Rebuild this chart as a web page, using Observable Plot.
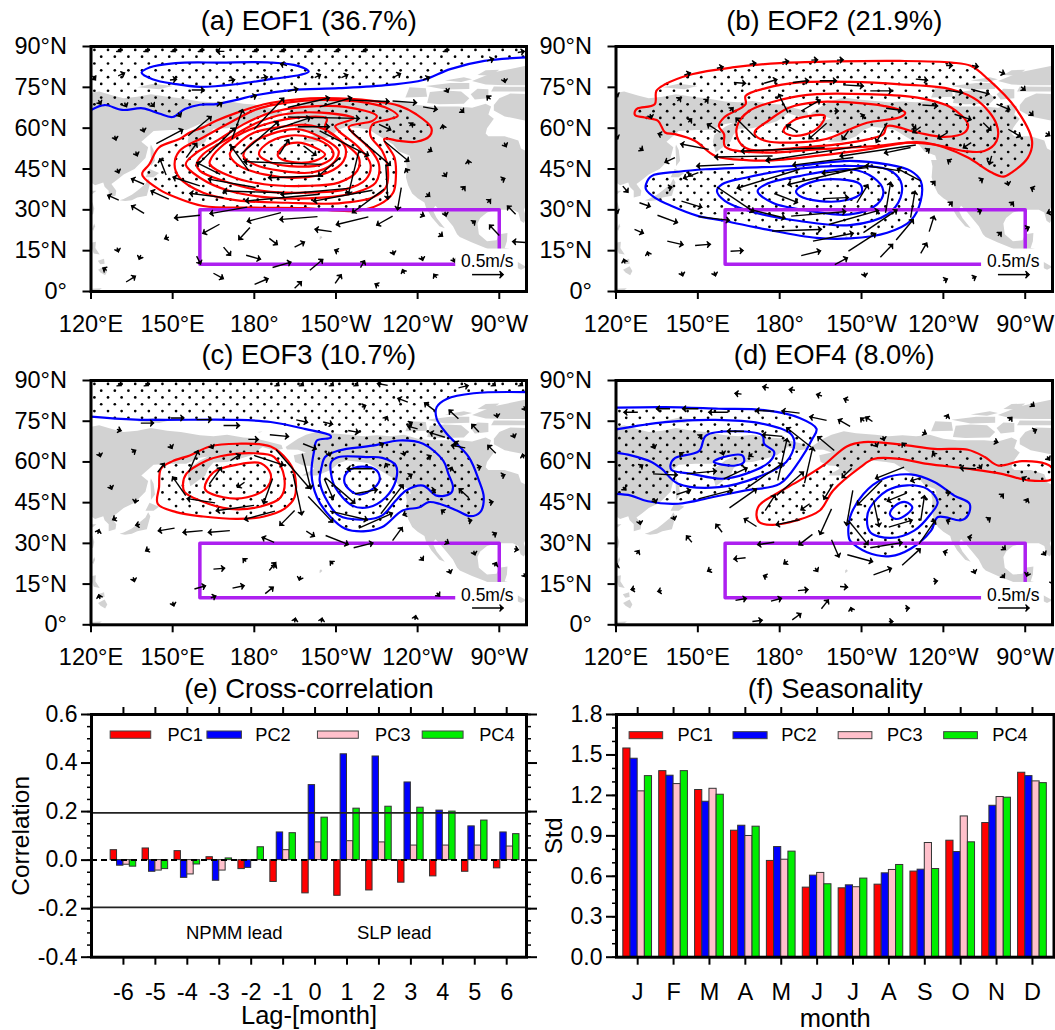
<!DOCTYPE html>
<html>
<head>
<meta charset="utf-8">
<script src="https://cdn.jsdelivr.net/npm/d3@7"></script>
<script src="https://cdn.jsdelivr.net/npm/@observablehq/plot@0.6"></script>
<style>
html,body{margin:0;padding:0;background:#fff;overflow:hidden;width:1055px;height:1030px}
#page{position:relative;width:1055px;height:1030px;overflow:hidden}
#page svg{position:absolute;overflow:visible;background:transparent}
</style>
</head>
<body>
<div id="page"></div>
<script>
// ---- map axes
const lonTicks=[120,150,180,210,240,270];
const lonLabels=["120°E","150°E","180°","150°W","120°W","90°W"];
const latTicks=[0,15,30,45,60,75,90];
const latLabels=["0°","15°N","30°N","45°N","60°N","75°N","90°N"];
// ---- land outlines (lon 0-360, lat)
const landPolygons=[
[[120,73],[123,73.5],[128,72],[132,71],[137,71.5],[142,72.5],[148,71.5],[153,71],[160,69.8],[165,69.5],[170,70],[176,69],[180,68.7],[185,67.5],[190,66.2],[190.5,64.8],[187,64.3],[183,65.5],[179,62.5],[174,61],[170,60],[165,59.8],[163,57.5],[162,55],[158.5,52.5],[156.5,51],[155.5,55],[156,57.5],[160,60.5],[163,62],[160,61.5],[155,59.3],[149,59.3],[143,59],[138.5,55],[141,53],[140,49],[136,45],[132,43],[129.5,41],[127.5,39.5],[129.3,37],[129,35.2],[126.5,34.5],[126.5,37],[125,38.5],[124.5,40],[121.5,39],[120,40]],
[[142,54],[143,52],[143.5,48],[142,46],[142,49],[141.8,53]],
[[130.5,33.5],[132,34],[135,35.5],[137,37],[140,39.5],[141,41.5],[141.8,40],[141,37],[140.5,35.2],[137,34.5],[135,33.5],[132.5,33.2]],
[[140,42],[141.5,45],[145,43.5],[143,42]],
[[120,28],[120.8,28.5],[121.2,30.5],[120.6,32.5],[120,33.5]],
[[120,37],[122,37],[120.5,35.8],[120,35.8]],
[[120.4,23],[121.2,25],[121.5,24],[120.8,22.3]],
[[120.4,18],[121.8,18.3],[121.6,16],[123.2,13.6],[121,14],[120.3,16]],
[[122.6,8],[125,9.3],[126,7.5],[125.2,6],[123.5,7]],
[[122.5,11.3],[124.8,12],[125,10.2],[123.4,10]],
[[120,1],[124,1.2],[123,.5],[120,.2]],
[[137,75],[143,76.3],[150,75.5],[145,74.3]],
[[181,71],[183,71.2],[182,70.8]],
[[204,19],[205,19.8],[204.5,20.5],[204,20]],
[[191.5,65.5],[193,66.5],[196,68.5],[199,70],[203.5,71.3],[208,70.6],[215,70],[220,69.5],[225,69.8],[230,69.5],[235,70],[240,68.5],[245,68],[250,68],[255,68],[260,67.5],[265,69],[267,68],[266,65],[268,63.5],[265.5,60],[265,58],[266,57],[268,57],[272,57],[277,55.5],[278,52.5],[280,51.5],[280,32],[279,30],[280,27],[279,25.2],[277.8,26],[277,29],[275,30],[269,30],[265.5,29],[263,27],[262,25],[262.5,21],[265.5,18.5],[269,18.8],[270,21],[273,21.5],[272.8,18.5],[272,16],[276.5,15],[276.5,11],[280,9],[278,8],[275,9.5],[272,12],[268,14.5],[265,16],[260,18],[255.5,20],[254.5,21],[253,24],[250.5,27],[248,30],[246.5,31.5],[245.5,30],[247,27],[250,23.2],[248,24],[245,27.5],[243,31],[242.5,32.7],[240,34.3],[238,36],[236.5,39],[235.7,42],[236,46],[235.5,48.3],[237.5,48.3],[237,50],[233,51.5],[231,54],[226,57],[222,59.5],[219,60],[214,60.5],[211,59.5],[208,57],[203,55],[197.5,55],[202,57.5],[201,58.5],[198,58.7],[195,60],[194.5,62.5],[199,63.5],[196,64.5],[192,64.6]],
[[268,66.5],[272,64.3],[280,62.7],[280,72.5],[274,72.7],[270,71],[268,68.5]],
[[235.5,71.3],[237,75],[243,74.7],[243.5,71.5]],
[[243.5,69.2],[244.5,73.3],[250,73.8],[256,73.5],[259,71],[257,69],[248,68.8]],
[[243,75.5],[252,76.6],[259,76.6],[259,74.4],[250,74.2]],
[[259.5,72.5],[262,74.5],[266,74.3],[266,71],[261,70.5]],
[[267,73.5],[280,73.5],[280,75.2],[268,75.3]],
[[260,77.3],[268,80.5],[280,83],[280,75.8],[272,75.8],[265,76]],
[[262,79.5],[265,81.3],[270,81.5],[267,79.3]],
[[250,77.5],[257,78.7],[260,78],[256,77]]
];
// ---- EOF1 contours
const aBlueOpen=[[[120,66.7],[125,68.5],[131.5,66.7],[139,67.3],[145,65.4],[150,64.1],[154.5,67],[160,68.6],[166,68.8],[173.5,70.4],[181,72.2],[193.5,74],[211,74.7],[229.5,75.9],[242,77.7],[252,81.7],[264.5,84.7],[280,86]]];
const aBlue=[[[138.6,80.4],[141.5,82.3],[151,83.9],[167.5,84.1],[186,84.1],[196,82.9],[200,80.8],[197,79.6],[186,78],[173.7,76.2],[160,75.2],[151,76.2],[142.6,78]]];
const aRed=[
[[138.9,43.7],[141.4,46.7],[145,52.9],[152.5,56],[156.3,58.4],[161,60.2],[166,62.7],[173.7,65.7],[183.6,68.8],[196,70.6],[206,71],[223.4,70],[233.3,68.2],[239.5,65.1],[245,60.2],[244.5,57.2],[239.5,55],[233.3,55.3],[227.7,56],[231.5,49.2],[232,41.8],[231,36.3],[226,32],[217,29.6],[198.5,30.6],[180,30.8],[161.2,31.4],[151.3,34.5],[145,37.5],[139,42.4]],
[[150.7,46.7],[152.5,51.6],[161,56.5],[171,62],[181,67],[192,69.4],[205,70.4],[221,69.4],[229.6,67],[232.7,64.5],[229.6,63.3],[223.4,61.4],[222.7,57.2],[227,51.6],[229,45.5],[228.3,38.2],[223.4,34.5],[211,32.4],[192.3,32.6],[173.7,33.5],[161.2,36.3],[152.5,41.8]],
[[158,50.4],[166,55.3],[176,61.4],[186,65.7],[198.5,67.8],[213.4,67.8],[225,64.5],[223.4,62.7],[214.7,60.5],[216,58.4],[222,52.9],[225.8,46.7],[224.6,40],[217,36.3],[204.7,34.5],[186,34.5],[171,36.9],[160,41.8],[154.8,46.7]],
[[158.8,46.7],[161.2,50.4],[171,56.5],[181,62],[191,65.1],[204.7,65.7],[216.5,63.6],[209.7,60.8],[211,59],[218.4,52.9],[222.7,46.7],[221,41.2],[213.4,37.5],[198.5,36.3],[183.6,36.9],[168.7,40.6],[160,44.3]],
[[163.7,48],[167.5,52.9],[176,58.4],[186,62],[196,63.9],[206.6,63.6],[206,60.2],[212,55.3],[218.4,49.2],[217.8,44.3],[211,40],[198.5,38.8],[183.6,39.4],[171,42.4],[163.7,46.7]],
[[171,50.4],[173.7,54],[180,58.4],[190,60.5],[198.5,61.2],[207,59],[213.4,52.9],[212.8,48],[207,43.7],[196,41.8],[183.6,43],[173.7,46.7]],
[[176,49.8],[178.6,54],[186,57.8],[196,59.6],[204.7,56.5],[211,51.6],[208.5,46.7],[201,43.7],[190,44.3],[180,46.7]],
[[181.7,50.4],[184.2,54],[192.3,57.2],[201,56.5],[208,52.9],[209,49.8],[204.7,46.7],[196,45.9],[186,47.4]],
[[188.6,50.4],[191,53.5],[196,54.7],[202.2,52.9],[206,50.4],[202.2,48],[194.8,47.4],[189,49.2]]
];
// ---- EOF2 contours
const bRed=[
[[127,66.3],[128,67.3],[134.2,68.8],[134.8,73.7],[138,76.1],[147.8,79.8],[162.6,82.3],[180,83.9],[199.6,84.5],[224,84.7],[243,84.1],[250,82.9],[256.4,78],[266.3,67.6],[272.5,55.3],[271,49.2],[265,43.7],[262,42.2],[257.7,43.7],[249,49.2],[240.4,52.9],[233,54.7],[226.8,54.7],[212,52.2],[193.5,49.8],[177.4,48.2],[168.8,48.2],[156.4,49.8],[149,55.3],[141.6,57.8],[138,58.4],[135.4,62.7],[130.5,63.9],[127,64.8]],
[[157.7,60.8],[159.6,63.9],[167.5,68.8],[167.5,71.9],[175,74.7],[187.3,76.8],[205.8,77],[224.3,76.1],[242.8,74.3],[252.7,70],[259.5,61.4],[259.5,55.3],[255,51.6],[247.8,51.6],[236.7,54],[227,54.7],[215.7,53.5],[193.5,52.2],[175,51],[160,53.2],[159.6,57.8]],
[[164.4,60.8],[168.8,66.3],[181,70.6],[193.5,72.5],[212,72.5],[230.5,71.2],[242.8,67.6],[249,61.4],[247.8,58.4],[240.4,56.8],[230.5,58.4],[219.4,60.8],[218,57.8],[205.8,54.7],[187.3,52.9],[168.8,52.2],[165,55.3]],
[[171,59],[174.8,62],[183.6,67.6],[193.5,69.6],[207,69.4],[218,68.2],[226,65.7],[224.3,64.1],[212,62],[205.8,59.6],[197,56],[184.8,54.7],[175,55.3],[171,57.5]],
[[181.4,59],[184.8,62.7],[191,64.5],[196.5,64.5],[194.7,60.8],[189.8,57.8],[183.6,57.5]]
];
const bBlue=[
[[131,39.4],[133,42.4],[142.8,44],[152.7,44.9],[167.5,45.5],[184.8,46.1],[205.8,48],[219.4,46.7],[228,44.3],[231.7,40.6],[231.7,33.3],[228,26],[219.4,21.6],[205.8,19.5],[193.5,19.7],[175,22.8],[160,25.9],[150.2,27.7],[140.4,31.4],[134.2,34.5],[131,37.5]],
[[157,36.9],[158.9,39.4],[167.5,41.8],[184.8,44.9],[207,46.1],[219.4,44.9],[224.3,40.6],[224.3,34.5],[219.4,28.3],[205.8,24.4],[187.3,25.9],[168.8,29.6],[160,33.2]],
[[171.9,36.9],[175,39.4],[187.3,42.4],[205.8,44.9],[214.4,41.8],[218,36.9],[215.7,32],[205.8,28.3],[191,29.6],[177.4,32.6]],
[[186,36.9],[191,40],[202,41.2],[209.5,39.4],[210,36.3],[204.6,33.6],[194.7,33.2],[187.3,35.1]]
];
// ---- EOF3 contours
const cBlueOpen=[[[120,76.7],[136.4,75.6],[173.7,75.5],[186,74.7],[198.5,72.2],[208,69.7],[208,68.9],[203,67.9],[202,64.2],[201,55.6],[203,47],[208,39.7],[213.4,35.4],[221,34.5],[227,36],[234.5,42.1],[240.7,43.3],[244,45.2],[248,44.6],[254.4,42.1],[259.4,40],[263,41.5],[264.3,47],[262.5,53.2],[258.8,61.8],[250.7,70.4],[247,75.9],[247,80.2],[250.7,83.2],[260.6,85.3],[280,85.7]]];
const cBlue=[
[[204.7,58],[206,61.8],[211,64.2],[223.4,66],[233.3,67.9],[242,66.7],[249.4,60.5],[251.3,55.6],[253,50.7],[252,48.3],[247,47.6],[242,51.3],[235.8,49.5],[232,45.8],[227,40.3],[221,38.8],[211,40.3],[206,47],[204,53.2]],
[[208.2,59.9],[211,61.8],[221,61.8],[227,61.5],[232,58.7],[232,53.2],[228.3,47],[222,43.3],[216,43.9],[209.7,50.7],[208.2,55.6]],
[[213,53.2],[214.7,56.8],[219.6,58.3],[225,56.8],[226,53.2],[222.7,49.5],[218.4,48],[214.7,50]]
];
const cRed=[
[[144.5,44.6],[145,50.7],[145.7,57.5],[150,60.3],[156.3,62.4],[163.7,65.7],[173.7,66.7],[186,65.7],[192.3,60.5],[194.8,55.6],[194.8,47],[191,42.7],[183.6,39.9],[173.7,39],[161.2,39.9],[151.3,41.5]],
[[153.8,51.9],[155,55.6],[162.5,60.5],[167.5,62.1],[180,63.2],[187.3,61.8],[191,54.4],[189.7,47],[182.4,43.6],[171,42.7],[160,45.8],[154.4,48.9]],
[[161.9,50],[165,56.2],[173.7,59],[182.4,59.5],[186,55.6],[184.8,50.7],[177.4,47],[168.7,47]]
];
// ---- EOF4 contours
const dBlueOpen=[
[[120,80],[138,80.2],[157.7,79.6],[175,79],[187.3,76.2],[193.5,72.2],[192,68.5],[187.3,60.5],[180,51.9],[167.5,49.5],[155.2,47],[142.8,44.6],[131.7,45.5],[125.5,47.6],[120,48.2]],
[[120,72],[138,74.7],[156.4,75.5],[172.5,74.3],[184,70.4],[185.4,66.7],[182.4,60],[172,54.4],[157.7,50.7],[142.8,52],[136.7,57.5],[133,60],[125.5,62.4],[120,63.4]]
];
const dBlue=[
[[140,59],[141.7,61.5],[150.4,64],[153,69.7],[162.9,71.3],[173.7,69.7],[174.3,66.7],[178,63.6],[176.2,60],[167.5,55.6],[158.9,53.8],[147.8,55.6],[140.4,57]],
[[155.8,60],[159.5,61.8],[166.3,62.4],[166.9,60],[163.8,58.7],[158.9,59]],
[[205.2,33.4],[205.8,39.7],[210.7,48.2],[218,53.8],[228,55.4],[236.7,52.6],[244,47.6],[249.6,44.6],[249,40.3],[246.5,38.5],[238,39.7],[235.5,34.7],[228,28],[220.6,25.3],[212,26.7],[205.8,31]],
[[212,39.3],[213.2,43.3],[219.4,49.5],[226.8,51.4],[234.2,50],[237.9,45.2],[235.5,41],[229.3,34.7],[220.6,32],[213.2,34.1]],
[[220.4,40.9],[222.5,44],[226.2,45.2],[228.6,43.3],[226.8,40.9],[222.5,39]]
];
const dRed=[[[171.5,40.3],[172.5,44],[178.6,48.2],[187.3,53.2],[196,58.7],[204.6,65.7],[210.8,67.3],[224.3,66.4],[236.7,64.8],[249,64.5],[255.2,61.8],[260,58.7],[268.8,60.3],[277.5,59.3],[280,57.5],[280,53.8],[271.2,53.2],[261.4,55.6],[249,57.5],[234.2,59.3],[224,61.1],[214.4,61.1],[209.5,58],[199.6,49.5],[194.7,42.1],[186,38.4],[177.4,36.8],[172.5,37.8]]];
// ---- wind vectors: [lon0,lat0,lon1,lat1]
const aWinds=[[144,54.3,153.2,59.2],[155.7,57.2,163.7,63.9],[155,49.2,158.5,54],[171.8,56,175.5,66.3],[160,47.4,172.4,59.6],[179.9,59.6,190.4,70.6],[175,50.4,188.3,62],[186,59,200,63.7],[192.3,67.6,207,71],[204,67.8,215.2,71],[215.3,70.3,228.9,69.8],[230.8,70,239,69.4],[242,67.8,246.6,67],[192.3,64.1,218,63.6],[196,60.5,207,60.5],[225.8,61.4,229.6,59.6],[227.7,55.3,236.3,48.2],[214.7,59.6,229.6,46.7],[204,59,221.5,50.2],[218.4,51.6,214.7,36.3],[228.3,46.7,229,34.5],[234,38.2,232.7,30.6],[227.7,37.6,216.5,29.3],[223.4,37.2,202.3,33.3],[211.6,49.2,204,42.8],[205.3,42.5,185.8,41.8],[214.7,37.9,190.4,35.7],[190.4,36.3,169.3,36.9],[204,35.7,177.4,33.3],[177.4,31,164.3,28.7],[168.7,34.5,156.9,36],[180.5,38.2,163.7,41.2],[160,38.8,150.7,41.8],[167.5,43,159.4,47.1],[178,44.3,171.8,52.9],[204.7,46.7,176.8,47.7],[189.2,50.4,192.3,55.3],[198.1,53.5,202.2,50.4],[147.6,42.8,145.5,48.2],[139.5,39.4,135.4,41.2],[148.6,33.9,142.6,36.7],[130.2,33.6,126.7,35.1],[139.5,28.7,135.4,31.2],[160,28,151.3,27.1],[167.2,24.7,161.6,21.6],[189.8,29,178,25.9],[203.2,27.5,190,26.5],[221.9,27.4,210.7,24.7],[230.8,27.7,225.5,24.7],[178.4,23.5,174.7,19.5],[208.4,22,202.9,22.8],[168.7,16.3,170.9,13.7],[177,13.3,181.7,12],[186.7,8.8,192.9,10.6],[200.4,7.8,204.7,11.4],[194.8,16.3,197.9,17.9],[219,8.8,220.2,10.8],[185.5,19.5,188,17.6],[180.1,2.6,184.5,4.5],[194.8,1.2,196.9,3.2],[209.7,3,211.6,5.7],[165,6.7,168.1,5],[132.9,3.5,135.8,5.3],[158.8,13,160,10.6],[157,74,161,74],[192.3,73.5,195.4,74.3],[276,28.4,273.4,31],[270,20.6,266.8,24],[279.9,18,275.5,18.3]];
// short vectors: [lon,lat,u,v]
const aShort=[[130,79.2,1.8,.8],[149,77.7,1.8,.2],[170.5,77.4,1.7,.3],[182.4,78.4,1.8,.3],[192,83,-1.8,.5],[202.2,78.6,1.6,.8],[212,78.6,1.8,.8],[231.4,78.8,1.8,1],[242,77.7,1.8,.8],[265.5,84.7,1.8,.6],[276.8,87.8,1.8,.3],[169,88.2,-2.2,0],[122.7,70.3,.6,-1],[132.3,69.4,.5,-1],[142,69.4,.8,-1],[152,65.7,.6,-1],[166.2,68,1.4,1],[178.6,71.2,1.6,.6],[130,89,.5,-.5],[140,89,.5,-.5],[150,89,.5,-.5],[160,89,.5,-.5],[180,89,.5,-.5],[190,89,.5,-.5],[200,89,.5,-.5],[210,89,.5,-.5],[220,89,.5,-.5],[250,89,.5,-.5],[120.5,79.2,.8,-1],[255.7,67,.8,-.8],[266.8,70.6,-.9,.8],[271.8,78.4,.2,-1],[250.4,74.7,.5,-1],[237,60.8,.8,.7],[249.5,59.6,-.2,1],[243.9,52.3,.8,-.5],[271.8,54.7,.5,-1],[258.8,46.7,-.2,1],[249.5,43.7,.7,-1],[236.4,43.7,-.5,.9],[270.6,40.9,.9,.4],[256.3,37.3,.7,.8],[243.2,36,.8,-.7],[265.6,32.6,.8,.8],[250,29.3,.3,-1],[241,28.4,.9,-.4],[260,25,.7,.5],[247.8,21.4,.9,-.7],[230.8,15.1,.3,-1],[241.4,13,.3,-1],[211,14.6,-.9,.4],[253,12.4,.4,-1],[235.2,6.5,-.5,1],[247,5,-.7,.9],[225.8,2,-.9,.5],[128.7,57.2,.3,-1],[139,60.2,.3,-1],[136.4,51.4,.4,-1],[129.6,45.1,.4,-1],[129.6,16.1,.3,-1],[138.3,13.4,-.4,-1],[125.8,7.8,-.9,.5],[148.6,20,-1,-.4]];
const bWinds=[[163.2,46.7,150.2,46.1],[150.2,43.7,145.3,41.8],[154,52.2,144.3,54.1],[177.4,49.8,156.8,49.4],[196.5,52.8,166.5,51.6],[210,53.5,175.6,48.2],[229.9,53.8,202.7,49.8],[228,52.9,219,51],[207,49.2,185.4,46.5],[187.3,44.9,165,38.1],[212,46.1,183.6,39.4],[212,45.5,196.2,43.5],[224.3,44.3,212,46.1],[231.7,40.6,223.7,44.9],[178,36,186,32.9],[195.9,34.1,204.6,34.5],[208.3,32.6,212,38.7],[218.8,28.9,220.6,39.6],[228,27.1,229.5,36.3],[210.7,21.6,222.5,29.6],[222.7,18.9,228.6,26],[205.2,14.8,214.7,21],[216.9,12.6,221,16.9],[234.8,22,236.4,27.1],[231.7,14,233.6,17.3],[200.2,9.9,204.3,12.1],[187.9,13.2,194.4,14.8],[198,24.6,215.7,29.6],[192.2,18.5,206.4,21.3],[177.2,22.2,194.7,22.8],[184.2,27.7,203.6,29.3],[168.8,30.2,181.4,27.1],[157,38.4,170,29.6],[150.2,27.5,161,26.2],[144,33.2,150.9,31.1],[135.2,28,142,25.5],[162,14.8,166,15],[149,16.9,154,17.3],[138.8,18.5,144,17.3],[128.6,32.6,132,31.4],[126.8,22.8,129.5,21.6],[171.2,56.5,164.4,63.3],[183,65.7,179.9,71.9],[187.9,66.3,194.3,70],[186,59,183,60.8],[197.2,61.8,191.2,56.5],[219.4,62,215.7,55.3],[205.2,59,203.3,56.3],[219,67.3,224.3,66.6],[203.3,75.9,210.1,75.5],[213.2,73.7,220.6,73.7],[194.7,77.4,200.2,77.4],[184.8,76.8,190,77.4],[174.3,76.5,178.4,77.7],[163.2,76.8,166.9,76.5],[232.3,68.5,237.3,68.2],[244.1,65.1,249.6,63.3],[229.9,78,233.6,77.7],[241.6,73.9,246.5,73.1],[250.2,74.3,256.2,72.7],[259.5,68.8,263.8,67],[254.6,62,257,59.6],[263.8,59.6,267.8,57.2],[241.6,58.4,238.5,56.5],[231.7,60.5,229.3,58.7],[250.2,54.7,247.8,53.1],[257.7,49.8,257,47.3],[158.3,58.4,154,61.2],[141.6,49.2,138.5,47.7],[122.5,38.7,124,36.9]];
const bShort=[[157,82,1.7,.4],[169,83.5,1.7,.3],[181,84.2,1.7,.3],[191.6,85,1.7,.1],[201,85,1.7,.1],[145,79.5,1.7,.6],[241,83,1.7,0],[250.5,83,1.7,-.3],[260.4,80.8,1.5,-.6],[268.5,75.2,1,-.9],[271.5,66,.9,-.9],[277.5,58.3,1,-.7],[142.5,70,.8,.8],[152.5,69.4,.8,.8],[161.7,66.3,.8,.8],[132.5,65.2,.3,-1],[146.5,62.2,.8,.8],[137,57.5,-1,.3],[128.6,52.8,.8,-.6],[200,66.3,.9,0],[209.6,64.2,.9,.4],[228.7,60.8,.8,-.7],[233.6,51.4,.8,.6],[242.8,47.5,-.8,.5],[253.2,40.6,.8,.5],[263.4,40.6,.3,-1],[273.5,37.5,-.9,.4],[235.8,39.2,.7,.8],[242,31.6,.8,.8],[252.5,29.2,.9,.4],[264.6,31.6,.7,.8],[270,23,.9,.4],[260,20.5,.8,.8],[279.5,29.3,-.9,-.3],[120,73,.4,-.9],[120,57.5,.4,-.9],[120,30.2,.4,-.9],[132,13,-.3,1],[123.3,10.3,-.3,1],[144,7.3,.3,-1],[156,7.3,.3,-1],[211,7,.2,-1],[240,4,.9,.4],[250.5,4.8,.9,.4],[139,38,.9,.2],[147.6,43.4,-.6,-.6]];
const cWinds=[[138.3,74.3,142.4,74.3],[149.4,76.2,153.5,76.2],[158.8,75.6,163.7,75.6],[168.7,73.4,174,73.4],[177.8,68.3,180.9,68.3],[185.7,70,192,69.4],[195.4,75.5,199,74.7],[205.3,74.7,208.2,74],[214.5,71.6,217.8,71],[197.9,66.7,202.2,65],[197.6,63,200.6,50.7],[188,64.5,200,50.7],[194.2,55.6,197.3,41.1],[199.8,47.3,208.4,38.2],[205.7,53.8,208.7,47],[206.6,53.8,216.5,45.2],[207.8,41.9,221,38.8],[218.4,35.6,230.2,40.9],[226.5,40.9,234.3,51.1],[217,48.3,224.6,49.7],[223.4,57.5,214.7,57.5],[230.8,31,234,35.4],[216.5,28.4,223,30],[206.2,32.9,214,29.8],[199.1,34.5,201.6,32.9],[187.3,30.4,183.4,32],[171,34.7,163.7,34.1],[161,34.7,154.4,34.1],[150.7,35.6,145.3,34.7],[187.6,41.9,177,39],[194.8,42.1,189.8,37],[179.9,44,166.6,42.1],[165.6,44.9,155.9,46.4],[154.8,47.6,150.3,54],[155.9,56.2,159.1,63.6],[144.5,56.2,146.6,59],[163.5,51.9,167.5,57.5],[186.7,53.8,183.6,45.2],[179.9,62.4,190.2,59],[171.2,60.5,174.3,62.4],[176.4,52.5,174.3,51],[250,69.1,245.1,70.6],[255,75.9,252,78.7],[262.5,71,260.3,73.4],[268.7,63.2,266.2,65.7],[258.8,46.8,255.7,49.7],[236.4,82,233.3,83.2],[246.3,78.9,243,81.4],[240,72.2,237,73],[257.5,65.2,253,66],[255,87.3,258,88],[229,88.2,225.8,88.8],[158,13.2,161.5,14.2],[165,20.5,168.5,20.8],[172,13.5,175.7,14.3],[184,11.5,186.5,13.5],[185.5,20,187.5,22.5]];
const cShort=[[130,89,.6,-.5],[140,89,.6,-.5],[188,89,.6,-.5],[197,89,.6,-.5],[208,89,.6,-.5],[217,89,.6,-.5],[267.5,89,.6,-.5],[277.5,89,.6,-.5],[129.5,72,1,-.3],[123,63.5,.3,-1],[135,63.5,.9,.5],[149,66.5,.5,-1],[164,66.5,.5,-1],[127,51.5,.4,-1],[136.5,46.5,-.2,-1],[129.5,39.5,-1,-.5],[138,37,-1,-.2],[122.5,33.5,.3,1],[141.5,28,-.9,-.5],[135.5,17.5,.3,-1],[123.3,9.5,-.3,1],[150,8.5,.3,-1],[177,23.3,-.7,.7],[187,20.8,.5,1],[164,9.9,1.3,.5],[197,18,-.3,-1],[209,22.3,-.7,.7],[241,25,.7,-.8],[251.5,20.5,.4,-1],[247,11.8,.7,-.8],[268.2,21.5,.5,.9],[260.6,27.3,.3,-1],[275.5,28,.9,-.2],[250,30.8,.9,-.5],[267.5,33,.9,.5],[258.5,38.2,.8,.2],[250,41.3,-.8,.6],[236,41,-.8,-.3],[266.2,45,.9,.2],[279,19,.5,-.9],[279,61.3,-.3,1],[270.6,54.8,.9,.3],[261.8,57.8,.9,.3],[252,56.5,.4,1],[245,49.5,.9,.1],[236.6,54.6,.8,.5],[234.7,64,.3,-1],[243.6,61.5,.8,.5],[255,66.5,-.9,.5],[229,58,-.5,.9],[226,66,.9,.5],[207.3,63.8,.3,-1],[219.5,80.2,.9,.4],[228,75.2,.5,1],[236.7,73.8,.8,.5],[269,78,.2,-1],[275,70.5,.4,-1],[279,80.5,.5,-1],[194.8,.9,.2,1],[204.6,.9,.2,1],[239,1.8,.2,1]];
const dWinds=[[128,78.3,123.5,78.3],[139.8,79.6,135.4,79.6],[150.2,79.6,145,79.6],[161,78.3,154.6,78.3],[178,78.7,171.9,78.9],[187.3,78,181.4,78.7],[197.2,75.3,191.6,76.5],[205.8,73.1,202,75.3],[214,74.9,212,76.2],[166.9,71.3,161.4,71.3],[181,69.4,174.3,70],[191.6,65.4,183,72.2],[200,64.2,194.4,68.9],[179.3,53.2,182.6,68],[189.1,52.2,192,64.8],[159.5,53.8,167.5,57.5],[167.5,50.1,180.5,59.1],[145.9,55.6,156.2,56.6],[133.6,55.6,141.9,55.2],[142.2,48,146.8,49.5],[150.2,46.4,162.2,49.5],[161.6,43.1,171,49.7],[178.9,47.6,188.3,55.9],[174.7,42.1,178,47.3],[199.6,51.9,196.5,46.8],[191,44.6,188.3,42.7],[206.4,57.7,203.3,54.6],[187.3,38.7,179.3,37],[199,42.7,195,33.8],[178,30.4,172.5,29.6],[192,33.3,187.5,29.8],[199,31.3,201.5,25.5],[206.8,49.5,204.6,37.2],[205.2,38.4,212,30],[225.6,58.1,215.7,54.1],[217.5,53.2,208.9,44.6],[214.4,45.8,216.3,36.8],[226.5,48.5,220,45.8],[220,36,228,38.4],[231.7,38.4,233,47],[213.2,28.4,224.3,30.2],[204.8,25.8,213.5,23.4],[224.9,21.9,231.1,27.6],[231.1,29.8,236.7,38],[214.4,18.4,220.4,20.6],[171.5,36.2,167.5,38.8],[158.9,34.1,157,36.6],[147.8,30.4,146.2,32.3],[167.5,24.7,163.8,24.3],[163.8,9,167.2,9.6],[176.8,8.7,180.1,9.6],[186.7,12.6,189.8,12.9],[202.1,14.1,204.3,13.9],[195.3,5.9,197.5,8.7],[184.6,1.8,187.3,3.8],[170,1.2,173,1.6],[231.7,54.1,228.6,53.2],[252,57.5,246.8,57.7]];
const dShort=[[166,85,-1.8,.2],[176,87.3,-1.6,.3],[185.6,86.4,-1.5,.2],[195.5,84.3,-1.4,.4],[205.3,82.7,-1.2,.4],[211,75,-.9,.8],[217.8,69.5,.3,-1],[232.3,71,.9,-.4],[241,75.9,.5,1],[264,75.2,.7,.8],[272,81.5,.8,-.6],[272.8,71.3,.8,.4],[258.5,67.7,.9,-.3],[278,62,.6,-.8],[270.2,53.5,-.8,.5],[260.9,47,.7,.7],[253,59,.6,-.9],[237,62,-.6,.9],[226,65.7,-.7,.8],[215,67,.5,-.9],[241,48.5,.9,.2],[242.5,38,-.8,.3],[256,38.5,.7,.5],[270.2,45,.5,.9],[276.5,27,.6,-.8],[250.5,32,-.9,.2],[261.5,28.8,.8,-.7],[241.5,26.5,-.9,.3],[251,20.5,.4,-1],[261.4,18.5,.6,-.7],[271,19.5,-.3,-1],[279.8,16.5,.3,-1],[236.3,16,.9,.1],[226,6,.9,.1],[206.5,4.8,-.3,1],[220,1.2,.9,0],[175.5,17.5,-.9,.4],[193,21,.6,-.9],[183,23.5,-1,-.7],[155,20.5,-.9,-.5],[127.5,26,.6,.9],[120,20.8,.3,1],[127,13.3,-.9,-.2],[136.8,12.6,-.9,-.2],[128.6,38.5,.2,-.9],[141,40.1,.3,-.9],[122.5,50.8,.7,-.7],[134,46.5,.4,-1],[128.6,58,.7,.5],[133.6,66.5,.4,-1],[150.2,68.8,.8,.8],[144.5,62.4,-.7,.6],[158.9,64.2,.3,-1],[170,63.1,-.8,-.7]];
// ---- cross-correlation values, lag -6..6
const lags=[-6,-5,-4,-3,-2,-1,0,1,2,3,4,5,6];
const seriesNames=["PC1","PC2","PC3","PC4"];
const seriesColors=["#ff0000","#0000ff","#ffc0cb","#00ee00"];
const corrPC1=[.041,.048,.037,.012,-.037,-.09,-.137,-.147,-.125,-.093,-.067,-.048,-.034];
const corrPC2=[-.023,-.048,-.073,-.085,-.032,.114,.309,.436,.427,.32,.204,.139,.114];
const corrPC3=[-.019,-.043,-.059,-.043,-.003,.041,.073,.078,.073,.06,.06,.06,.056];
const corrPC4=[-.027,-.037,-.018,.007,.053,.111,.175,.212,.22,.216,.2,.163,.107];
// ---- seasonality values, J..D
const months=["J","F","M","A","M","J","J","A","S","O","N","D"];
const stdPC1=[1.548,1.38,1.24,.938,.714,.516,.511,.538,.635,.864,.995,1.368];
const stdPC2=[1.472,1.346,1.153,.975,.817,.605,.533,.622,.649,.78,1.123,1.343];
const stdPC3=[1.23,1.284,1.249,.899,.723,.625,.519,.647,.847,1.044,1.188,1.304];
const stdPC4=[1.343,1.38,1.205,.968,.783,.541,.583,.684,.654,.852,1.183,1.291];
// ---- legends
const legendE=[{s:"PC1",x1:-6.4,x2:-5.13,t:-4.62},{s:"PC2",x1:-3.37,x2:-2.29,t:-1.87},{s:"PC3",x1:.09,x2:1.37,t:1.88},{s:"PC4",x1:3.37,x2:4.65,t:5.14}];
const legendF=[{s:"PC1",x1:.775,x2:1.71,t:2.11},{s:"PC2",x1:3.67,x2:4.62,t:5},{s:"PC3",x1:6.6,x2:7.54,t:7.95},{s:"PC4",x1:9.54,x2:10.48,t:10.88}];
const significance=[-0.195,0.195];
const region=[[160,10],[270,10],[270,30],[160,30],[160,10]];
const scaleArrow=[[260,6.2,270.8,6.2]];

const FONT="'Liberation Sans',Arial,sans-serif";
const page=document.getElementById("page");
function place(svg,left,top){svg.style.left=left+"px";svg.style.top=top+"px";page.appendChild(svg);}
function stipple(regions){
  const out=[];
  for(let row=0;row<36;row++){
    const lat=88.75-2.5*row;
    for(let lon=121.25+(row%2?2.5:0);lon<280;lon+=5){
      if(regions.some(p=>d3.polygonContains(p,[lon,lat])))out.push([lon,lat]);
    }
  }
  return out;
}
const vecOpts={x1:d=>d[0],y1:d=>d[1],x2:d=>d[2],y2:d=>d[3],stroke:"black",strokeWidth:1.4,markerEnd:"arrow",clip:true};
const headOpts={x:d=>d[2],y:d=>d[3],symbol:"triangle2",r:2.3,fill:"black",stroke:"none",clip:true,
  rotate:d=>Math.atan2(d[2]-d[0],d[3]-d[1])*180/Math.PI};
function mapPanel(cfg){
  const short=cfg.short.map(s=>[s[0],s[1],s[0]+s[2],s[1]+s[3]]);
  const fmtX=v=>lonLabels[lonTicks.indexOf(v)], fmtY=v=>latLabels[latTicks.indexOf(v)];
  const svg=Plot.plot({
    width:cfg.w,height:cfg.h,marginLeft:cfg.ml,marginRight:cfg.mr,marginTop:cfg.mt,marginBottom:cfg.mb,
    style:{fontFamily:FONT,background:"transparent",overflow:"visible"},
    x:{domain:[120,280]},y:{domain:[0,90]},
    marks:[
      ...landPolygons.map(p=>Plot.line(p,{x:d=>d[0],y:d=>d[1],fill:"#d2d2d2",stroke:"none",clip:true})),
      Plot.dot(stipple(cfg.stipple),{x:d=>d[0],y:d=>d[1],r:1.35,fill:"black",stroke:"none",clip:true}),
      ...cfg.redClosed.map(c=>Plot.line(c,{x:d=>d[0],y:d=>d[1],stroke:"#ff0000",strokeWidth:2.2,curve:"catmull-rom-closed",clip:true})),
      ...cfg.blueClosed.map(c=>Plot.line(c,{x:d=>d[0],y:d=>d[1],stroke:"#0000ff",strokeWidth:2.2,curve:"catmull-rom-closed",clip:true})),
      ...cfg.blueOpen.map(c=>Plot.line(c,{x:d=>d[0],y:d=>d[1],stroke:"#0000ff",strokeWidth:2.2,curve:"catmull-rom",clip:true})),
      Plot.line(region,{x:d=>d[0],y:d=>d[1],stroke:"#ad20f0",strokeWidth:3.5,clip:true}),
      Plot.link(cfg.winds,vecOpts),
      Plot.link(short,vecOpts),
      Plot.dot(cfg.winds,headOpts),
      Plot.dot(short,headOpts),
      Plot.rect([[254,277,3,15.6]],{x1:d=>d[0],x2:d=>d[1],y1:d=>d[2],y2:d=>d[3],fill:"white",stroke:"none"}),
      Plot.text(["0.5m/s"],{x:265.6,y:11,fontSize:17.5}),
      Plot.link(scaleArrow,{...vecOpts,strokeWidth:1.5}),
      Plot.dot(scaleArrow,headOpts),
      Plot.axisX({ticks:lonTicks,tickFormat:fmtX,tickSize:8,tickPadding:16,fontSize:23.5,label:null,strokeWidth:2}),
      Plot.axisY({ticks:latTicks,tickFormat:fmtY,tickSize:8,tickPadding:16,fontSize:23.5,label:null,strokeWidth:2}),
      Plot.frame({stroke:"black",strokeWidth:3}),
      Plot.text([cfg.title],{frameAnchor:"top",lineAnchor:"middle",dy:-25,fontSize:27.4})
    ]
  });
  place(svg,cfg.left,cfg.top);
}
const W1={w:530,ml:90.5,mr:4,left:0}, W2={w:525,ml:85.5,mr:3,left:530};
const R1={h:340,mt:46,mb:49,top:0}, R2={h:330,mt:40,mb:45.7,top:340};
mapPanel({...W1,...R1,title:"(a) EOF1 (36.7%)",redClosed:aRed,blueClosed:aBlue,blueOpen:aBlueOpen,winds:aWinds,short:aShort,
  stipple:[[...aBlueOpen[0],[280,90],[120,90]],aRed[0]]});
mapPanel({...W2,...R1,title:"(b) EOF2 (21.9%)",redClosed:bRed,blueClosed:bBlue,blueOpen:[],winds:bWinds,short:bShort,
  stipple:[bRed[0],bBlue[0]]});
mapPanel({...W1,...R2,title:"(c) EOF3 (10.7%)",redClosed:cRed,blueClosed:cBlue,blueOpen:cBlueOpen,winds:cWinds,short:cShort,
  stipple:[[...cBlueOpen[0],[280,90],[120,90]],cRed[0]]});
mapPanel({...W2,...R2,title:"(d) EOF4 (8.0%)",redClosed:dRed,blueClosed:dBlue,blueOpen:dBlueOpen,winds:dWinds,short:dShort,
  stipple:[dBlueOpen[0],dRed[0],dBlue[2]]});

function rows(keys,cols){
  const out=[];
  keys.forEach((k,j)=>cols.forEach((c,i)=>out.push({key:j,pos:k,i,series:seriesNames[i],value:c[j]})));
  return out;
}
function barPanel(cfg){
  const blank=()=>"";
  const svg=Plot.plot({
    width:cfg.w,height:360,marginLeft:cfg.ml,marginRight:cfg.mr,marginTop:44,marginBottom:73.3,
    style:{fontFamily:FONT,background:"transparent",overflow:"visible"},
    x:{domain:cfg.xd},y:{domain:cfg.yd},
    color:{domain:seriesNames,range:seriesColors},
    marks:[
      Plot.rect(cfg.data,{x1:d=>d.pos-.4+d.i*.2,x2:d=>d.pos-.2+d.i*.2,y1:0,y2:"value",fill:"series",stroke:"#333",strokeWidth:1}),
      ...cfg.extra,
      Plot.rect(cfg.legend,{x1:"x1",x2:"x2",y1:cfg.ly[0],y2:cfg.ly[1],fill:"s",stroke:"#444",strokeWidth:1}),
      Plot.text(cfg.legend,{x:"t",y:(cfg.ly[0]+cfg.ly[1])/2,text:"s",fontSize:18.2,textAnchor:"start"}),
      Plot.axisX({anchor:"bottom",ticks:cfg.xticks,tickFormat:cfg.xfmt,tickSize:8,tickPadding:18,fontSize:23.5,label:null,strokeWidth:2}),
      Plot.axisX({anchor:"top",ticks:cfg.xticks,tickFormat:blank,tickSize:8,label:null,strokeWidth:2}),
      Plot.axisY({anchor:"left",ticks:cfg.yticks,tickFormat:cfg.yfmt,tickSize:10,tickPadding:4,fontSize:23,label:null,strokeWidth:2}),
      Plot.axisY({anchor:"left",ticks:cfg.yminor,tickFormat:blank,tickSize:4,label:null,strokeWidth:1.5}),
      Plot.axisY({anchor:"right",ticks:cfg.yticks,tickFormat:blank,tickSize:10,label:null,strokeWidth:2}),
      Plot.axisY({anchor:"right",ticks:cfg.yminor,tickFormat:blank,tickSize:4,label:null,strokeWidth:1.5}),
      Plot.frame({stroke:"black",strokeWidth:3}),
      Plot.text([cfg.title],{frameAnchor:"top",lineAnchor:"middle",dy:-25,fontSize:27.4}),
      Plot.text([cfg.xlabel],{frameAnchor:"bottom",lineAnchor:"middle",dy:cfg.xdy,fontSize:25.5}),
      Plot.text([cfg.ylabel],{frameAnchor:"left",textAnchor:"middle",lineAnchor:"middle",rotate:-90,dx:cfg.ydx,fontSize:cfg.yfs})
    ]
  });
  place(svg,cfg.left,670);
}
const fmt1=d=>d3.format(".1f")(d).replace("\u2212","-");
const corrMinor=d3.range(-8,13).map(v=>v*.05);
const corrMajor=[-.4,-.2,0,.2,.4,.6];
barPanel({w:530,ml:91,mr:4,left:0,title:"(e) Cross-correlation",xlabel:"Lag-[month]",ylabel:"Correlation",xdy:59,ydx:-70,yfs:24.5,
  xd:[-7,6.62],yd:[-.4,.6],xticks:lags,xfmt:d=>String(d),yticks:corrMajor,yfmt:fmt1,yminor:corrMinor,
  data:rows(lags,[corrPC1,corrPC2,corrPC3,corrPC4]),legend:legendE,ly:[.5,.53],
  extra:[
    Plot.ruleY(significance,{stroke:"#222",strokeWidth:1.8}),
    Plot.ruleY([0],{stroke:"black",strokeWidth:2,strokeDasharray:"6,4"}),
    Plot.text(["NPMM lead"],{x:-2.53,y:-.3,fontSize:18.5}),
    Plot.text(["SLP lead"],{x:2.48,y:-.3,fontSize:18.5})
  ]});
const stdMinor=d3.range(0,19).map(v=>v*.1);
const stdMajor=[0,.3,.6,.9,1.2,1.5,1.8];
barPanel({w:525,ml:86,mr:1.5,left:530,title:"(f) Seasonality",xlabel:"month",ylabel:"Std",xdy:61.5,ydx:-62,yfs:24.5,
  xd:[.41,12.6],yd:[0,1.8],xticks:d3.range(1,13),xfmt:d=>months[d-1],yticks:stdMajor,yfmt:fmt1,yminor:stdMinor,
  data:rows(d3.range(1,13),[stdPC1,stdPC2,stdPC3,stdPC4]),legend:legendF,ly:[1.617,1.669],extra:[]});
</script>
</body>
</html>
